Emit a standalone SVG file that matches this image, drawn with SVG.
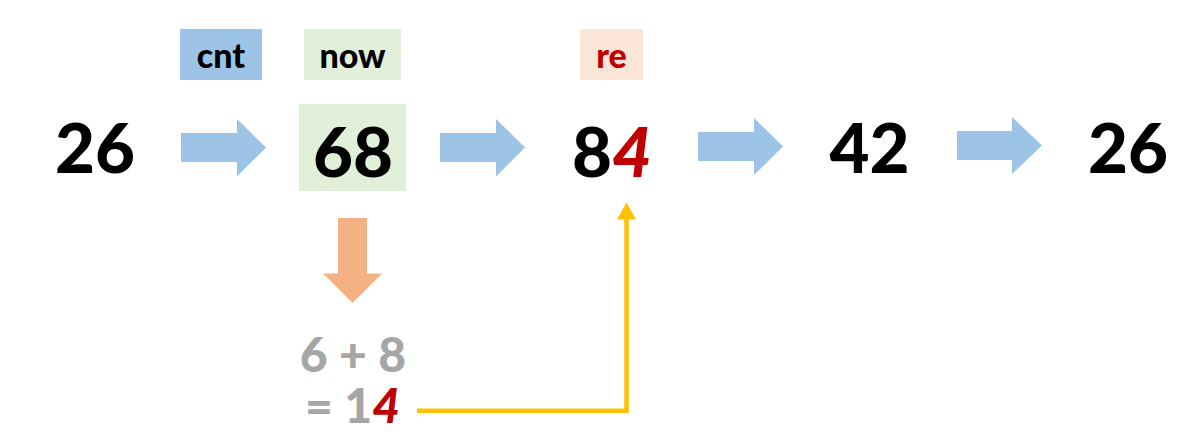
<svg xmlns="http://www.w3.org/2000/svg" width="1195" height="445" viewBox="0 0 1195 445">
<style>
.num{font-family:Lato,"Noto Sans",sans-serif;font-weight:900;font-size:69px;text-anchor:middle;fill:#000}
.lbl{font-family:Lato,"Noto Sans",sans-serif;font-weight:900;font-size:34px;text-anchor:middle;fill:#000}
.calc{font-family:Lato,"Noto Sans",sans-serif;font-weight:900;font-size:48px;text-anchor:middle;fill:#A6A6A6}
.red{fill:#C00000}
.slant{font-style:italic}
.blue{fill:#9DC3E6}
</style>
<rect width="1195" height="445" fill="#fff"/>
<g id="label-cnt"><rect x="180" y="29" width="82" height="51" fill="#9DC3E6"/><text class="lbl" x="221" y="68">cnt</text></g>
<g id="label-now"><rect x="304" y="29" width="97" height="51" fill="#E2F0D9"/><text class="lbl" x="352.5" y="68">now</text></g>
<g id="label-re"><rect x="580" y="29" width="63" height="51" fill="#FBE5D6"/><text class="lbl red" x="611.5" y="68">re</text></g>
<g id="n1"><text class="num" x="95" y="173">26</text></g>
<g id="n2"><rect x="299" y="104" width="107" height="87" fill="#E2F0D9"/><text class="num" x="353" y="176.5">68</text></g>
<g id="n3"><text class="num" x="612" y="176.5">8<tspan class="red slant">4</tspan></text></g>
<g id="n4"><text class="num" x="869.5" y="173">42</text></g>
<g id="n5"><text class="num" x="1128" y="173">26</text></g>
<g id="calc"><text class="calc" x="353" y="371.5">6 + 8</text><text class="calc" x="352.5" y="423">= 1<tspan class="red slant">4</tspan></text></g>
<g id="connectors">
<polygon class="blue" points="181,133 237,133 237,119 266,147.5 237,176.5 237,162 181,162"/>
<polygon class="blue" points="440,133 496,133 496,119 525,147.5 496,176.5 496,162 440,162"/>
<polygon class="blue" points="698,132 754,132 754,118 783,146.5 754,175 754,161 698,161"/>
<polygon class="blue" points="957,131 1012,131 1012,117 1042,145.5 1012,174 1012,160 957,160"/>
<polygon fill="#F4B183" points="338,218 367,218 367,273.5 382,273.5 352.5,303 323,273.5 338,273.5"/>
<polyline points="417,410.7 626.5,410.7 626.5,218" fill="none" stroke="#FFC000" stroke-width="4.5"/>
<polygon fill="#FFC000" points="626.5,202.5 636,219.5 617,219.5"/>
</g>
</svg>
